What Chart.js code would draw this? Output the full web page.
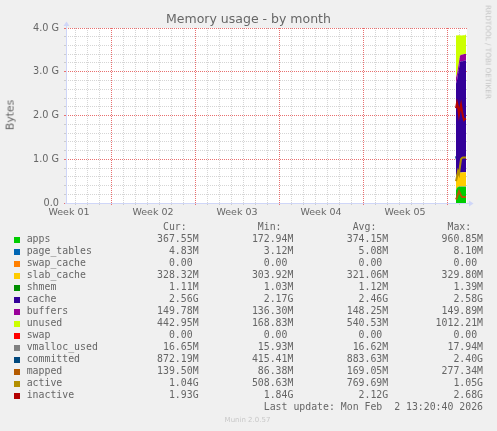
<!DOCTYPE html>
<html>
<head>
<meta charset="utf-8">
<script src="https://cdn.jsdelivr.net/npm/chart.js@4.4.1/dist/chart.umd.min.js"></script>
<style>
html,body{margin:0;padding:0;background:#f0f0f0;}
body{width:497px;height:431px;position:relative;overflow:hidden;font-family:"DejaVu Sans",sans-serif;color:#666;}
#c{position:absolute;left:0;top:0;}
.abs{position:absolute;white-space:pre;margin:0;}
#title{left:0;width:497px;text-align:center;top:11.7px;font-size:12.5px;line-height:14.55px;}
#ylab{left:10.5px;top:115px;font-size:10.8px;line-height:10.8px;transform:translate(-50%,-50%) rotate(-90deg);}
#wm{left:488px;top:52px;font-size:7.3px;line-height:7.3px;color:#c4c4c4;transform:translate(-50%,-50%) rotate(90deg);}
#legend{left:26.7px;top:221.3px;font-family:"DejaVu Sans Mono",monospace;font-size:9.85px;line-height:12px;color:#666;}
.sw{position:absolute;width:6px;height:6px;}
#munin{left:0;width:495px;text-align:center;top:416px;font-size:7px;line-height:8px;color:#c8c8c8;}
</style>
</head>
<body>
<canvas id="c" width="497" height="431"></canvas>
<div class="abs" id="title">Memory usage - by month</div>
<div class="abs" id="ylab">Bytes</div>
<div class="abs" id="wm">RRDTOOL / TOBI OETIKER</div>
<pre class="abs" id="legend"></pre>
<div id="swatches"></div>
<div class="abs" id="munin">Munin 2.0.57</div>
<script>
// ---- data (GiB), sampled every 2 hours; x = hours since left edge of graph ----
const hours        = [780, 782, 784, 786, 788, 790, 792, 794, 796, 798, 800];
const apps         = [0.30, 0.34, 0.36, 0.37, 0.37, 0.37, 0.37, 0.37, 0.37, 0.37, 0.368];
const page_tables  = [0.005, 0.005, 0.005, 0.005, 0.005, 0.005, 0.005, 0.005, 0.005, 0.005, 0.0047];
const swap_cache   = [0, 0, 0, 0, 0, 0, 0, 0, 0, 0, 0];
const slab_cache   = [0.304, 0.31, 0.315, 0.32, 0.32, 0.322, 0.325, 0.326, 0.327, 0.328, 0.328];
const shmem        = [0.001, 0.001, 0.001, 0.001, 0.001, 0.001, 0.001, 0.001, 0.001, 0.001, 0.0011];
const cache        = [2.12, 2.15, 2.26, 2.38, 2.52, 2.54, 2.54, 2.54, 2.55, 2.55, 2.56];
const buffers      = [0.136, 0.14, 0.144, 0.147, 0.148, 0.149, 0.149, 0.15, 0.15, 0.15, 0.15];
const unused       = [0.97, 0.88, 0.75, 0.61, 0.47, 0.44, 0.44, 0.44, 0.43, 0.43, 0.443];
const swap         = [0, 0, 0, 0, 0, 0, 0, 0, 0, 0, 0];
const vmalloc_used = [0.016, 0.016, 0.016, 0.016, 0.016, 0.016, 0.016, 0.016, 0.016, 0.016, 0.016];
const committed    = [1.07, 0.98, 0.88, 0.80, 0.83, 0.85, 0.86, 0.86, 0.85, 0.85, 0.85];
const mapped       = [0.08, 0.13, 0.20, 0.27, 0.22, 0.17, 0.14, 0.14, 0.14, 0.14, 0.14];
const active       = [0.50, 0.60, 0.72, 0.66, 0.84, 1.00, 1.03, 1.04, 1.04, 1.04, 1.04];
const inactive     = [2.17, 2.29, 2.20, 2.02, 2.15, 2.25, 2.10, 1.98, 1.90, 1.92, 1.93];

// ---- axis ticks ----
const xRange      = [0, 802];
const dayLines    = [18, 42, 66, 114, 138, 162, 186, 210, 234, 282, 306, 330, 354, 378, 402, 450, 474, 498, 522, 546, 570, 618, 642, 666, 690, 714, 738, 786];
const weekLines   = [90, 258, 426, 594, 762];
const weekLabelAt = [6, 174, 342, 510, 678];
const weekLabels  = ['Week 01', 'Week 02', 'Week 03', 'Week 04', 'Week 05'];
const yRange      = [0, 4];
const yMajor      = [0, 1, 2, 3, 4];
const yMajorLabels= ['0.0', '1.0 G', '2.0 G', '3.0 G', '4.0 G'];
const yMinorStep  = 0.2;

// ---- legend text ----
const names  = ['apps','page_tables','swap_cache','slab_cache','shmem','cache','buffers','unused','swap','vmalloc_used','committed','mapped','active','inactive'];
const curTxt = ['367.55M','4.83M','0.00 ','328.32M','1.11M','2.56G','149.78M','442.95M','0.00 ','16.65M','872.19M','139.50M','1.04G','1.93G'];
const minTxt = ['172.94M','3.12M','0.00 ','303.92M','1.03M','2.17G','136.30M','168.83M','0.00 ','15.93M','415.41M','86.38M','508.63M','1.84G'];
const avgTxt = ['374.15M','5.08M','0.00 ','321.06M','1.12M','2.46G','148.25M','540.53M','0.00 ','16.62M','883.63M','169.05M','769.69M','2.12G'];
const maxTxt = ['960.85M','8.10M','0.00 ','329.80M','1.39M','2.58G','149.89M','1012.21M','0.00 ','17.94M','2.40G','277.34M','1.05G','2.68G'];
const lastUpdate = 'Last update: Mon Feb  2 13:20:40 2026';

// ---- styles ----
const colors = ['#00cc00','#0066b3','#ff8000','#ffcc00','#008f00','#330099','#990099','#ccff00','#ff0000','#808080','#00487d','#b35a00','#b38f00','#b30000'];
const MINOR = 'rgba(150,150,150,0.4)';
const MAJOR = 'rgb(232,112,112)';
const AXIS  = '#cfd6f8';

const series = [apps, page_tables, swap_cache, slab_cache, shmem, cache, buffers, unused, swap,
                vmalloc_used, committed, mapped, active, inactive];
const nAreas = 9;

const datasets = series.map((vals, i) => {
  const pts = hours.map((h, k) => ({x: h, y: vals[k]}));
  if (i < nAreas) {
    return {label: names[i], data: pts, stack: 'mem', order: 10,
      fill: i === 0 ? 'origin' : '-1', backgroundColor: colors[i],
      borderColor: 'rgba(0,0,0,0)', borderWidth: 0, pointRadius: 0, tension: 0};
  }
  return {label: names[i], data: pts, stack: 'line' + i, order: 20 - i,
    fill: false, borderColor: colors[i], borderWidth: 2, pointRadius: 0, tension: 0};
});

const xTicks = [];
dayLines.forEach(v => xTicks.push({value: v, kind: 'day'}));
weekLines.forEach(v => xTicks.push({value: v, kind: 'week'}));
weekLabelAt.forEach((v, i) => xTicks.push({value: v, kind: 'label', name: weekLabels[i]}));
xTicks.sort((a, b) => a.value - b.value);

const yTicks = [];
for (let k = 0; k <= Math.round((yRange[1] - yRange[0]) / yMinorStep); k++) {
  const v = Math.round((yRange[0] + k * yMinorStep) * 10) / 10;
  const mi = yMajor.indexOf(v);
  yTicks.push({value: v, kind: mi >= 0 ? 'week' : 'day', name: mi >= 0 ? yMajorLabels[mi] : ''});
}

const gridColor = ctx => {
  const t = ctx.tick;
  if (!t) return 'rgba(0,0,0,0)';
  return t.kind === 'week' ? MAJOR : t.kind === 'day' ? MINOR : 'rgba(0,0,0,0)';
};

const frame = {
  id: 'frame',
  beforeDraw(c) {
    const {ctx, chartArea: a} = c;
    ctx.save();
    ctx.fillStyle = '#ffffff';
    ctx.fillRect(a.left, a.top, a.right - a.left, a.bottom - a.top);
    ctx.restore();
  },
  afterDraw(c) {
    const {ctx, chartArea: a} = c;
    ctx.save();
    ctx.strokeStyle = AXIS; ctx.fillStyle = AXIS; ctx.lineWidth = 1;
    const yb = a.bottom + 0.5, xl = a.left + 0.5;
    ctx.beginPath(); ctx.moveTo(a.left - 1, yb); ctx.lineTo(a.right + 2, yb); ctx.stroke();
    ctx.beginPath(); ctx.moveTo(a.right + 2, yb - 3); ctx.lineTo(a.right + 6.5, yb); ctx.lineTo(a.right + 2, yb + 3); ctx.closePath(); ctx.fill();
    ctx.beginPath(); ctx.moveTo(xl, a.bottom + 1); ctx.lineTo(xl, a.top - 2); ctx.stroke();
    ctx.beginPath(); ctx.moveTo(xl - 3, a.top - 2); ctx.lineTo(xl, a.top - 6.5); ctx.lineTo(xl + 3, a.top - 2); ctx.closePath(); ctx.fill();
    ctx.restore();
  }
};

new Chart(document.getElementById('c'), {
  type: 'line',
  data: {datasets},
  options: {
    responsive: false, animation: false, devicePixelRatio: 1,
    layout: {padding: {left: 0, top: 28, right: 30, bottom: 208}},
    plugins: {legend: {display: false}, tooltip: {enabled: false}, title: {display: false}},
    scales: {
      x: {
        type: 'linear', min: xRange[0], max: xRange[1],
        afterBuildTicks: s => { s.ticks = xTicks.map(t => ({...t})); },
        afterFit: s => { s.height = 20; },
        grid: {color: gridColor, lineWidth: 1, drawTicks: true, tickLength: 2, tickColor: gridColor},
        border: {display: false, dash: [1, 1]},
        ticks: {autoSkip: false, maxRotation: 0, minRotation: 0, padding: 2, color: '#666',
          font: {family: 'DejaVu Sans', size: 9.5},
          callback: (v, i, t) => (t[i] && t[i].kind === 'label') ? t[i].name : ''}
      },
      y: {
        type: 'linear', stacked: true, min: yRange[0], max: yRange[1],
        afterBuildTicks: s => { s.ticks = yTicks.map(t => ({...t})); },
        afterFit: s => { s.width = 66; },
        grid: {color: gridColor, lineWidth: 1, drawTicks: true, tickLength: 2, tickColor: gridColor},
        border: {display: false, dash: [1, 1]},
        ticks: {autoSkip: false, padding: 5, color: '#666',
          font: {family: 'DejaVu Sans', size: 9.7},
          callback: (v, i, t) => t[i] ? t[i].name : ''}
      }
    }
  },
  plugins: [frame]
});

// ---- legend ----
const ends = [29, 45, 61, 77];
function row(name, vals) {
  let s = name;
  vals.forEach((v, i) => { s = s.padEnd(ends[i] - v.length) + v; });
  return s;
}
const lines = [row('', ['Cur:  ', 'Min:  ', 'Avg:  ', 'Max:  '])];
names.forEach((n, i) => lines.push(row(n, [curTxt[i], minTxt[i], avgTxt[i], maxTxt[i]])));
lines.push(''.padEnd(ends[3] - lastUpdate.length) + lastUpdate);
document.getElementById('legend').textContent = lines.join('\n');

const sw = document.getElementById('swatches');
names.forEach((n, i) => {
  const d = document.createElement('div');
  d.className = 'sw';
  d.style.left = '14px';
  d.style.top = (237 + 12 * i) + 'px';
  d.style.background = colors[i];
  sw.appendChild(d);
});
</script>
</body>
</html>
